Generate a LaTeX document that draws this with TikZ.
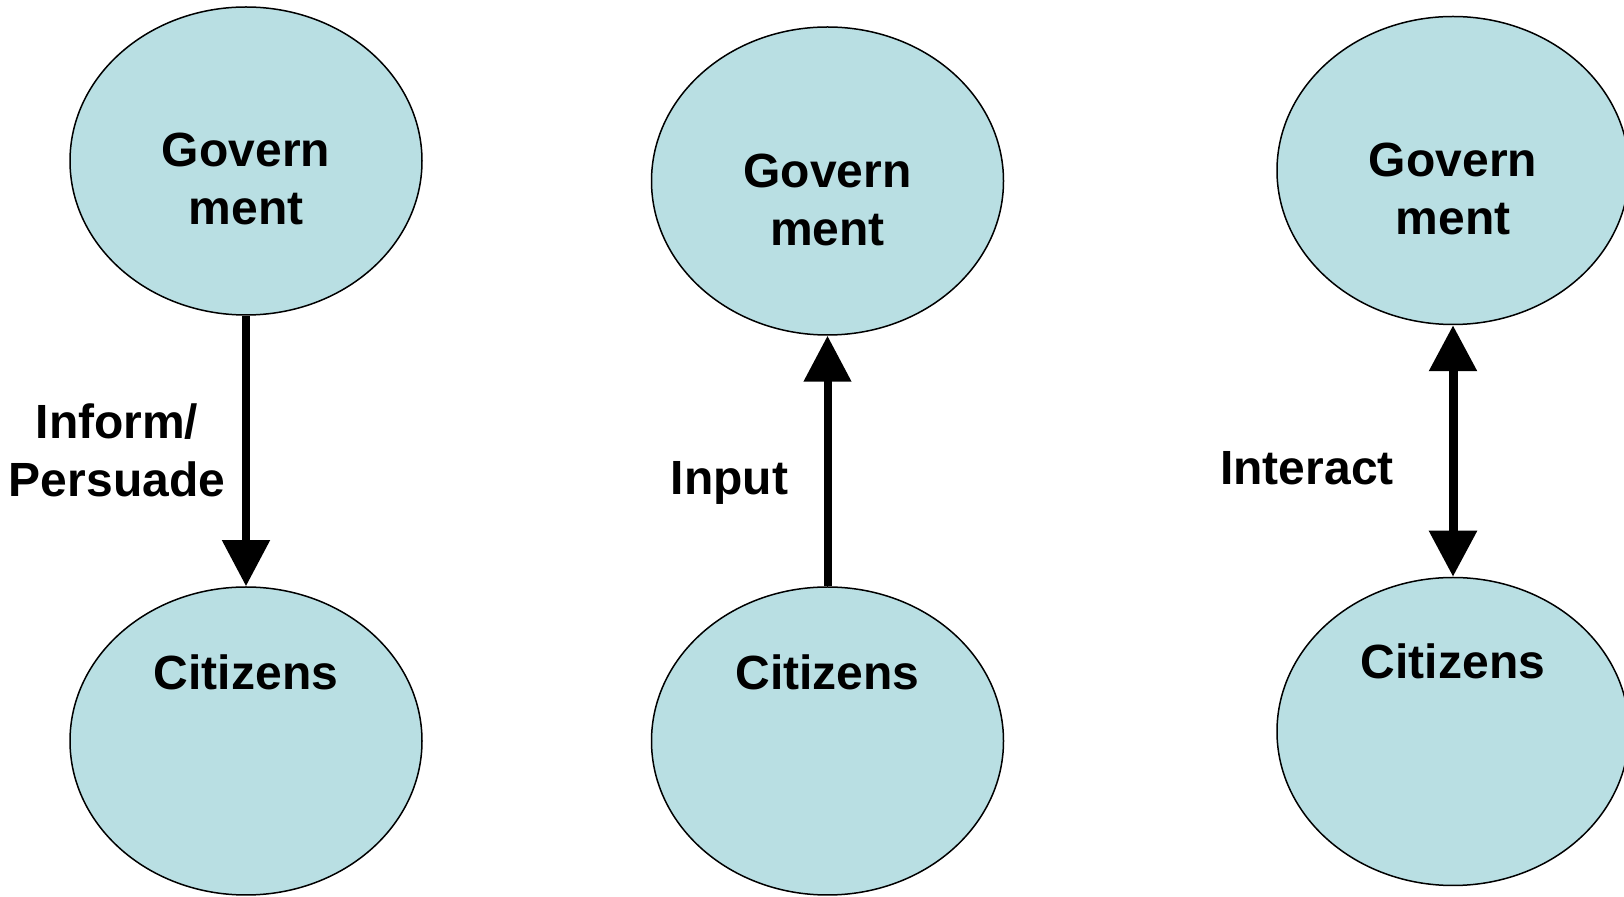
\documentclass[tikz,border=0pt]{standalone}
\usepackage{fontspec}
\setmainfont{Liberation Sans}
\usetikzlibrary{shapes.geometric,arrows.meta}
\definecolor{ellfill}{RGB}{185,223,227}
\begin{document}
\begin{tikzpicture}[x=0.5pt,y=-0.5pt,
  actor/.style={ellipse,draw=black,line width=0.75pt,fill=ellfill,
    minimum width=176pt,minimum height=154pt,inner sep=0pt},
  txt/.style={font=\bfseries\fontsize{24}{29}\selectfont,align=center,
    inner sep=0pt,anchor=base},
  flow/.style={line width=4pt,-{Triangle[width=23pt,length=23pt]}},
  both/.style={line width=4.5pt,{Triangle[width=23pt,length=23pt]}-{Triangle[width=23pt,length=23pt]}}]
\useasboundingbox (0,0) rectangle (1624,897);

% left pair: government informs citizens
% (two-line nodes sit on the baseline of their last line)
\node[actor] (g1) at (246,161) {};
\node[actor] (c1) at (246,741) {};
\node[txt] (g1t) at (246,225) {Govern\\ment};
\node[txt] (c1t) at (246,690) {Citizens};
\draw[flow] (g1.south) -- (c1.north);
\node[txt] (l1) at (117,497) {Inform/\\Persuade};

% middle pair: citizens give input
\node[actor] (g2) at (827.5,181) {};
\node[actor] (c2) at (827.5,741) {};
\node[txt] (g2t) at (827.5,246) {Govern\\ment};
\node[txt] (c2t) at (827.5,690) {Citizens};
\draw[flow] (c2.north) -- (g2.south);
\node[txt] (l2) at (729.5,495) {Input};

% right pair: two-way interaction
\node[actor] (g3) at (1453,170.5) {};
\node[actor] (c3) at (1453,731.5) {};
\node[txt] (g3t) at (1453,234.5) {Govern\\ment};
\node[txt] (c3t) at (1453,679) {Citizens};
\draw[both] (g3.south) -- (c3.north);
\node[txt] (l3) at (1307,485) {Interact};
\end{tikzpicture}
\end{document}
